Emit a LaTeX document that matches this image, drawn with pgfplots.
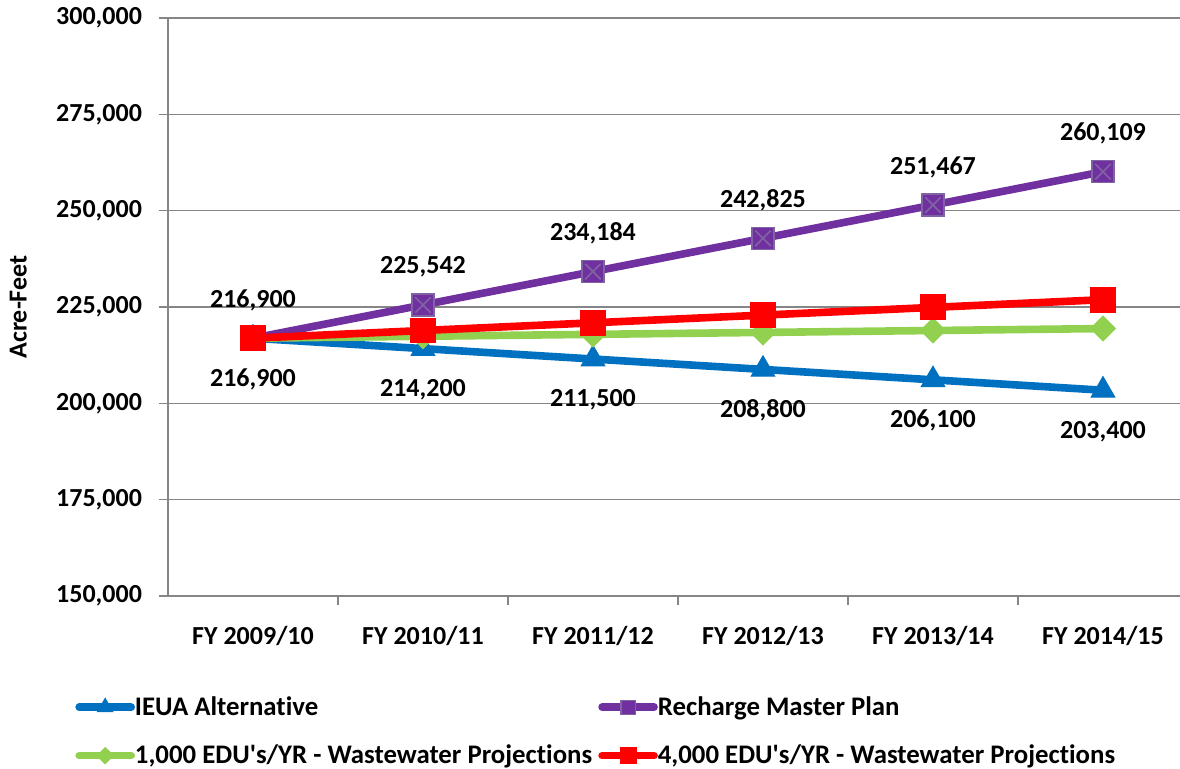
\documentclass[border=0pt]{standalone}
\usepackage{fontspec}
\setmainfont{Carlito}[Ligatures={NoCommon}]
\usepackage{pgfplots}
\pgfplotsset{compat=1.18}
\definecolor{cblue}{HTML}{0070C0}
\definecolor{cpurple}{HTML}{7030A0}
\definecolor{cpurplel}{HTML}{8064A2}
\definecolor{cgreen}{HTML}{92D050}
\definecolor{cred}{HTML}{FF0000}
\definecolor{cgrid}{HTML}{868686}
\begin{document}
\begin{tikzpicture}[font=\fontsize{13}{15.6}\selectfont\bfseries]
\useasboundingbox (-84pt,-86pt) rectangle (506pt,298pt);
\begin{axis}[
  at={(0,0)}, anchor=south west,
  scale only axis, width=506pt, height=289pt,
  xmin=-0.5, xmax=5.453, ymin=150000, ymax=300000,
  axis x line*=bottom, axis y line*=left,
  axis line style={cgrid, line width=0.75pt, -},
  xtick={0,...,5},
  xticklabels={FY 2009/10, FY 2010/11, FY 2011/12, FY 2012/13, FY 2013/14, FY 2014/15},
  minor xtick={0.5,1.5,...,4.5},
  ytick={150000,175000,...,300000},
  scaled y ticks=false,
  ymajorgrids, grid style={cgrid, line width=0.75pt},
  tick align=outside,
  major tick length=4.5pt, minor tick length=4.5pt,
  every major x tick/.append style={draw=none},
  every minor x tick/.append style={cgrid, line width=0.75pt},
  every major y tick/.append style={cgrid, line width=0.75pt},
  yticklabel style={xshift=-5pt},
  xticklabel style={yshift=-7pt},
  /pgf/number format/fixed,
  /pgf/number format/1000 sep={,},
  /pgf/number format/assume math mode=true,
  ylabel={Acre-Feet},
  every axis y label/.style={at={(axis description cs:-0.148,0.5)}, rotate=90, anchor=center},
  legend columns=2,
  legend cell align=left,
  legend style={draw=none, fill=none, at={(axis description cs:-0.0919,-0.166)}, anchor=north west, inner sep=0pt, row sep=9.3pt,
    font=\fontsize{13.4}{16}\selectfont\bfseries,
    /tikz/every odd column/.append style={column sep=-2pt},
    /tikz/every even column/.append style={column sep=1pt}},
  legend image code/.code={\draw[mark repeat=2, mark phase=2, #1, line cap=round, every mark/.append style={scale=0.65}] plot coordinates {(0pt,0pt) (13pt,0pt) (26pt,0pt)};},
]
\addplot[cblue, line width=3.8pt, mark=triangle*, mark size=6.8pt,
  mark options={solid, fill=cblue, draw=cblue, line width=0.5pt},
  nodes near coords, nodes near coords style={anchor=center, yshift=-20.5pt, text=black}]
  coordinates {(0,216900)(1,214200)(2,211500)(3,208800)(4,206100)(5,203400)};
\addlegendentry{IEUA Alternative}
\addplot[cpurple, line width=3.8pt, mark=square*, mark size=5.5pt,
  mark options={solid, fill=cpurple, draw=cpurplel, line width=0.6pt},
  nodes near coords, nodes near coords style={anchor=center, yshift=19pt, text=black}]
  coordinates {(0,216900)(1,225542)(2,234184)(3,242825)(4,251467)(5,260109)};
\addlegendentry{Recharge Master Plan}
\addplot[cpurplel, only marks, mark=x, mark size=5.5pt, mark options={line width=0.8pt}, forget plot]
  coordinates {(1,225542)(2,234184)(3,242825)(4,251467)(5,260109)};
\addplot[cgreen, line width=3.8pt, mark=square*, mark size=4.4pt,
  mark options={solid, rotate=45, fill=cgreen, draw=cgreen, line width=0.5pt}]
  coordinates {(0,216900)(1,217400)(2,217900)(3,218400)(4,218900)(5,219400)};
\addlegendentry{1,000 EDU\textquotesingle s/YR - Wastewater Projections}
\addplot[cred, line width=3.8pt, mark=square*, mark size=6.2pt,
  mark options={solid, fill=cred, draw=cred, line width=0.5pt}]
  coordinates {(0,216900)(1,218900)(2,220900)(3,222900)(4,224900)(5,226900)};
\addlegendentry{4,000 EDU\textquotesingle s/YR - Wastewater Projections}
\end{axis}
\end{tikzpicture}
\end{document}
